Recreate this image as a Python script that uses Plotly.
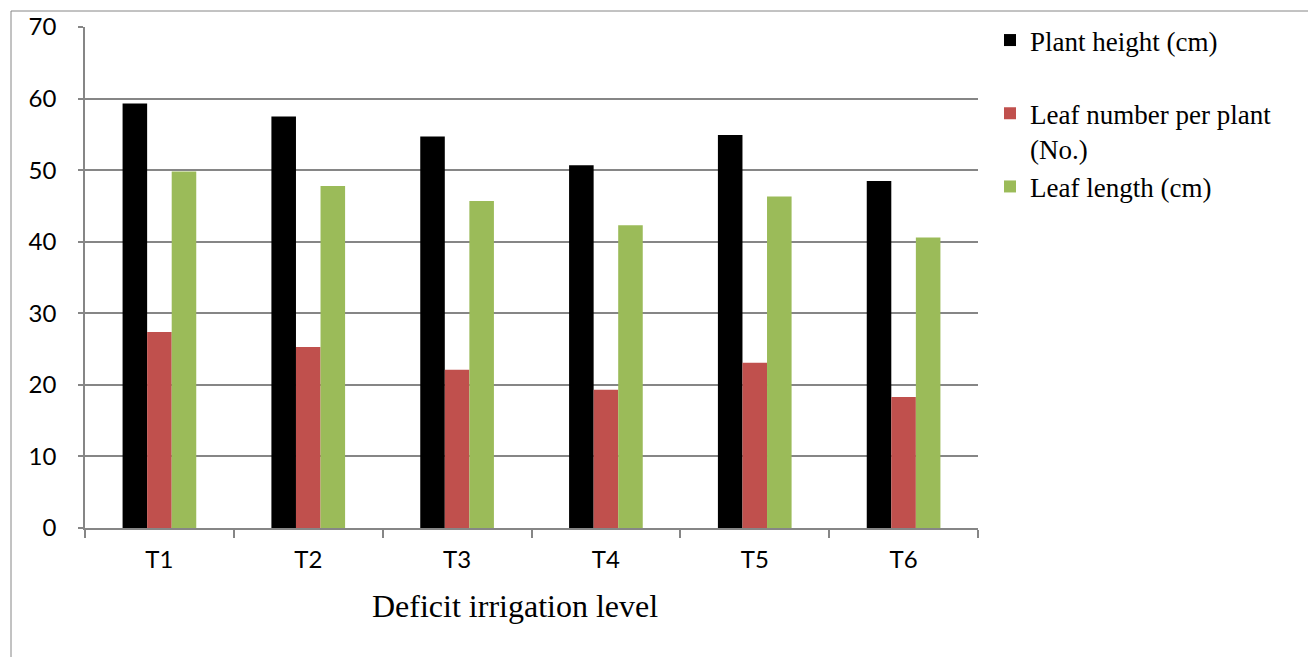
import plotly.graph_objects as go

# Treatment levels and measured growth traits
levels = ["T1", "T2", "T3", "T4", "T5", "T6"]
plant_height = [59.3, 57.5, 54.7, 50.7, 54.9, 48.5]
leaf_number = [27.4, 25.3, 22.1, 19.3, 23.1, 18.3]
leaf_length = [49.8, 47.8, 45.7, 42.3, 46.3, 40.6]
y_ticks = [0, 10, 20, 30, 40, 50, 60, 70]

series = [
    ("Plant height (cm)<br>&nbsp;", plant_height, "#000000"),
    ("Leaf number per plant<br>(No.)", leaf_number, "#C0504D"),
    ("Leaf length (cm)", leaf_length, "#9BBB59"),
]

fig = go.Figure()
for name, vals, color in series:
    fig.add_trace(go.Bar(x=levels, y=vals, name=name, marker=dict(color=color, line=dict(width=0))))

W, H = 1308, 657
L, R, T, B = 85, 978, 27, 528

grid = "#868686"
fig.update_layout(
    width=W, height=H,
    margin=dict(l=L, r=W - R, t=T, b=H - B),
    paper_bgcolor="white", plot_bgcolor="white",
    barmode="group", bargap=0.505, bargroupgap=0,
    showlegend=True,
    legend=dict(
        x=(990 - L) / (R - L), xanchor="left",
        y=(B - 16) / (B - T), yanchor="top",
        font=dict(family="Liberation Serif", size=27, color="black"),
        valign="top", bgcolor="rgba(0,0,0,0)", borderwidth=0,
    ),
    xaxis=dict(
        type="category", showline=True, linecolor=grid, linewidth=1.5,
        ticks="outside", tickson="boundaries", ticklen=8, tickcolor=grid, tickwidth=1.5,
        tickfont=dict(family="Lato", size=24, color="black"),
        ticklabelstandoff=9, showgrid=False,
    ),
    yaxis=dict(
        range=[0, 70], tickvals=y_ticks, showline=True, linecolor=grid, linewidth=1.5,
        ticks="outside", ticklen=5, tickcolor=grid, tickwidth=1.5,
        showgrid=True, gridcolor=grid, gridwidth=1.5, zeroline=False,
        tickfont=dict(family="Lato", size=24, color="black"),
        ticklabelstandoff=17,
    ),
    annotations=[dict(
        text="Deficit irrigation level", xref="paper", yref="paper",
        x=(514.5 - L) / (R - L), y=(B - 606) / (B - T),
        xanchor="center", yanchor="middle", showarrow=False,
        font=dict(family="Liberation Serif", size=32, color="black"),
    )],
    shapes=[dict(
        type="rect", xref="paper", yref="paper",
        x0=(11 - L) / (R - L), x1=2.0,
        y0=-1.0, y1=(B - 11) / (B - T),
        line=dict(color=grid, width=1), fillcolor="rgba(0,0,0,0)", layer="below",
    )],
)

fig.write_html("out.html")
